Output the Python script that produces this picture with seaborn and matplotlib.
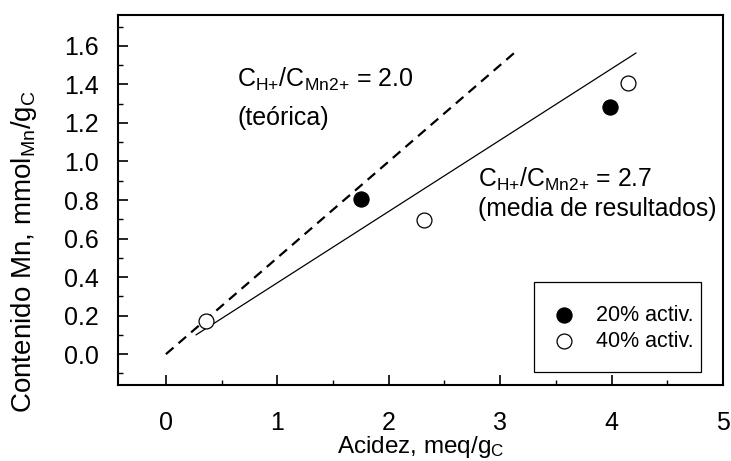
import numpy as np
import pandas as pd
import seaborn as sns
import matplotlib
matplotlib.use("Agg")
import matplotlib.pyplot as plt
from matplotlib.patches import Rectangle
from matplotlib.ticker import MultipleLocator

# Measured Mn loading vs. surface acidity
acidez_20 = [1.75, 3.99]
mn_20 = [0.805, 1.285]
acidez_40 = [0.36, 2.32, 4.15]
mn_40 = [0.172, 0.695, 1.405]

# H+/Mn2+ ratios: theoretical and mean of results
ratio_teorica = 2.0
ratio_media = 2.7
x_teorica = [0.0, 3.16]
x_media = [0.27, 4.22]

x_ticks = [0, 1, 2, 3, 4, 5]
y_ticks = [0.0, 0.2, 0.4, 0.6, 0.8, 1.0, 1.2, 1.4, 1.6]

sns.set_theme(style="white")
plt.rcParams["font.family"] = ["Liberation Sans", "DejaVu Sans"]
plt.rcParams["mathtext.default"] = "regular"
plt.rcParams["text.color"] = "black"
plt.rcParams["axes.labelcolor"] = "black"
plt.rcParams["xtick.color"] = "black"
plt.rcParams["ytick.color"] = "black"

fig = plt.figure(figsize=(7.31, 4.61), dpi=100)
ax = fig.add_axes([118 / 731, 1 - 385 / 461, 605 / 731, 370 / 461])

lines = pd.concat([
    pd.DataFrame({"x": x_teorica, "y": np.array(x_teorica) / ratio_teorica, "kind": "teo"}),
    pd.DataFrame({"x": x_media, "y": np.array(x_media) / ratio_media, "kind": "media"}),
])
sns.lineplot(data=lines[lines.kind == "teo"], x="x", y="y", ax=ax, color="black",
             linewidth=1.6, dashes=False, linestyle=(0, (4.5, 3.0)), legend=False)
sns.lineplot(data=lines[lines.kind == "media"], x="x", y="y", ax=ax, color="black",
             linewidth=0.9, legend=False)

sns.scatterplot(x=acidez_20, y=mn_20, ax=ax, s=120, color="black", edgecolor="black",
                linewidth=0.8, label="20% activ.", zorder=5)
sns.scatterplot(x=acidez_40, y=mn_40, ax=ax, s=115, color="white", edgecolor="black",
                linewidth=0.9, label="40% activ.", zorder=5)

ax.set_xlim(-0.43, 5.0)
ax.set_ylim(-0.16, 1.76)
ax.set_xticks(x_ticks)
ax.set_yticks(y_ticks)
ax.set_yticklabels([f"{v:.1f}" for v in y_ticks])
ax.xaxis.set_minor_locator(MultipleLocator(0.5))
ax.yaxis.set_minor_locator(MultipleLocator(0.1))
ax.tick_params(which="major", direction="in", length=7, width=1.2, colors="black",
               labelsize=18, bottom=True, left=True, top=False, right=False)
ax.tick_params(axis="y", which="major", pad=14)
ax.tick_params(axis="x", which="major", pad=19)
ax.tick_params(which="minor", direction="in", length=3.5, width=1.0, colors="black",
               bottom=True, left=True, top=False, right=False)
for sp in ax.spines.values():
    sp.set_visible(True)
    sp.set_color("black")
    sp.set_linewidth(1.5)

ax.set_xlabel("Acidez, meq/g$_{C}$", fontsize=17.5, color="black")
ax.set_ylabel("Contenido Mn, mmol$_{Mn}$/g$_{C}$", fontsize=20, color="black")
ax.xaxis.set_label_coords(0.5, -0.1335)
ax.yaxis.set_label_coords(-0.13, 0.36)

ax.text(0.64, 1.39, "C$_{H{+}}$/C$_{Mn2{+}}$ = 2.0", fontsize=18, ha="left", va="baseline")
ax.text(0.64, 1.19, "(teórica)", fontsize=18, ha="left", va="baseline")
ax.text(2.80, 0.87, "C$_{H{+}}$/C$_{Mn2{+}}$ = 2.7", fontsize=17.8, ha="left", va="baseline")
ax.text(2.80, 0.715, "(media de resultados)", fontsize=17.8, ha="left", va="baseline")

leg = ax.legend(loc="upper left", bbox_to_anchor=(0.719, 0.216), frameon=False,
                fontsize=15.5, borderpad=0, handlelength=1.0, handletextpad=1.0,
                labelspacing=0.22, borderaxespad=0)
ax.add_patch(Rectangle((0.688, 0.035), 0.2756, 0.243, transform=ax.transAxes,
                       fill=False, edgecolor="black", linewidth=0.9, zorder=6))

fig.savefig("out.png", dpi=100)
